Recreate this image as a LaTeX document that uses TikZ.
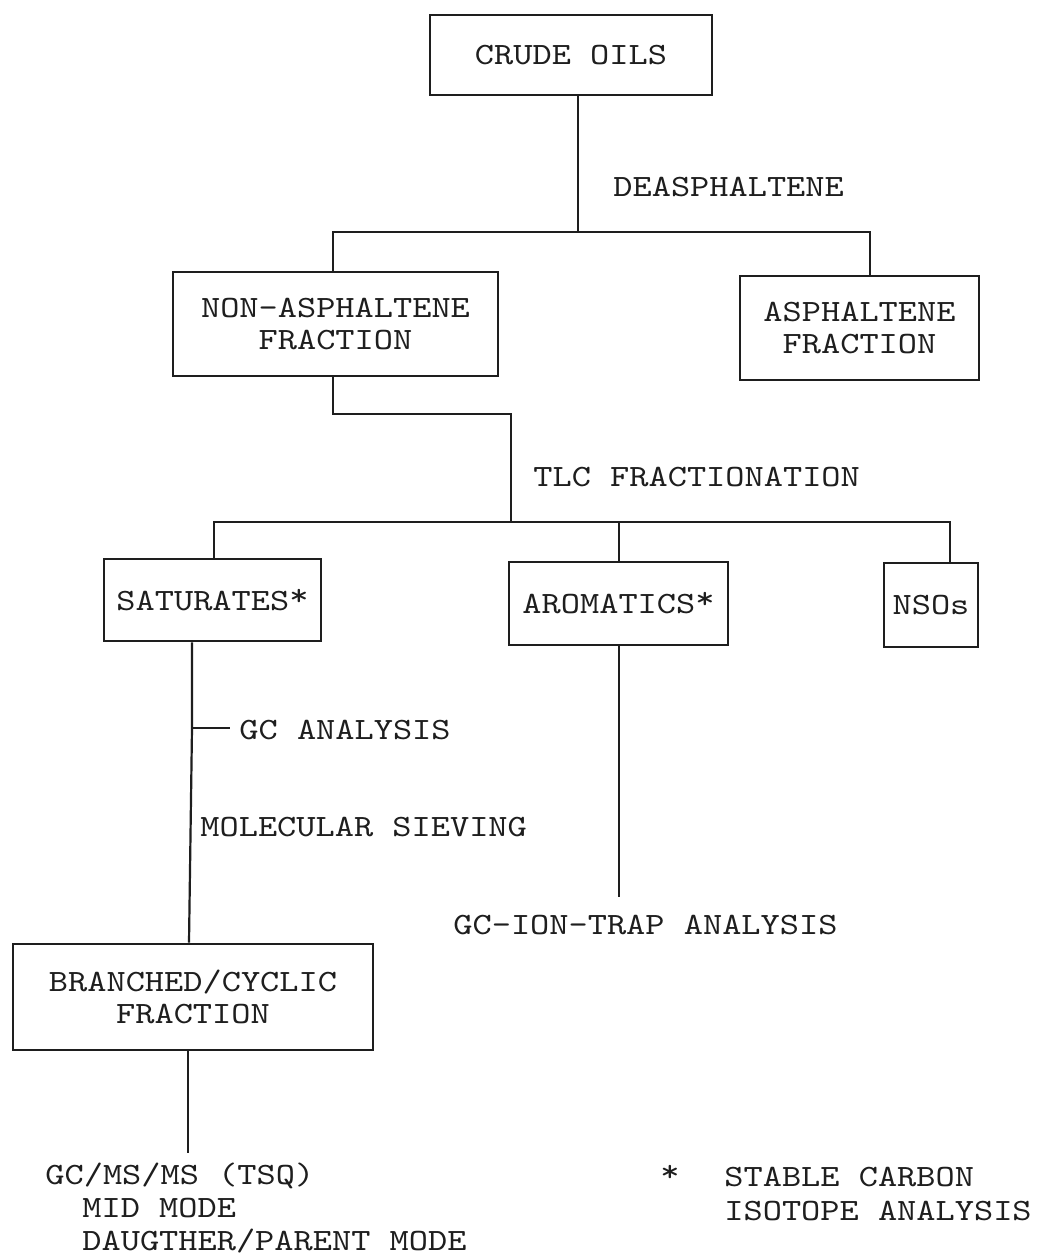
\documentclass[tikz,border=0pt]{standalone}
\usepackage{fontspec}
\newfontfamily\mono[FakeStretch=1.18]{lmmono10-regular.otf}
\definecolor{ink}{HTML}{1E1E1E}
\newcommand{\hiast}{\raisebox{2.5pt}{*}}
\begin{document}
\begin{tikzpicture}[x=0.5pt,y=-0.5pt,
  txt/.style={font=\mono\fontsize{15.5}{16}\selectfont,text=ink},
  box/.style={txt,draw=ink,line width=1.3pt,inner sep=0pt,align=center},
  lbl/.style={txt,anchor=base west,inner sep=0pt},
  conn/.style={draw=ink,line width=1.1pt}]
\useasboundingbox[fill=white] (0,0) rectangle (1037,1255);

% boxes
\node[box,minimum width=141pt,minimum height=40pt] (crude) at (571,55) {CRUDE OILS};
\node[box,minimum width=162.5pt,minimum height=52pt] (nonasph) at (335.5,324) {NON-ASPHALTENE\\FRACTION};
\node[box,minimum width=119.5pt,minimum height=52pt] (asph) at (859.5,328) {ASPHALTENE\\FRACTION};
\node[box,minimum width=108.5pt,minimum height=41pt] (sat) at (212.5,600) {SATURATES\hiast};
\node[box,minimum width=109.5pt,minimum height=41.5pt] (arom) at (618.5,603.5) {AROMATICS\hiast};
\node[box,minimum width=47pt,minimum height=42pt] (nso) at (931,605) {NSOs};
\node[box,minimum width=180pt,minimum height=53pt] (branched) at (193,997) {BRANCHED/CYCLIC\\FRACTION};

% labels
\node[lbl] (deas) at (613,196) {DEASPHALTENE};
\node[lbl] (tlc) at (533,486) {TLC FRACTIONATION};
\node[lbl] (gcan) at (239,739) {GC ANALYSIS};
\node[lbl] (molsv) at (200,836) {MOLECULAR SIEVING};
\node[lbl] (iontrap) at (453,934) {GC-ION-TRAP ANALYSIS};
\node[lbl] (gcms1) at (45,1184) {GC/MS/MS (TSQ)};
\node[lbl] (gcms2) at (82,1217) {MID MODE};
\node[lbl] (gcms3) at (82,1250) {DAUGTHER/PARENT MODE};
\node[lbl] (star) at (660,1186) {\hiast};
\node[lbl] (stable) at (724,1186) {STABLE CARBON};
\node[lbl] (isotope) at (724,1220) {ISOTOPE ANALYSIS};

% junction coordinates
\coordinate (j1) at (578,232);
\coordinate (dl) at (333,232);
\coordinate (dr) at (870,232);
\coordinate (k1) at (333,414);
\coordinate (k2) at (511,414);
\coordinate (k3) at (511,522);
\coordinate (hl) at (214,522);
\coordinate (ha) at (619,522);
\coordinate (hr) at (950,522);
\coordinate (s1) at (192,728);
\coordinate (t1) at (230,728);
\coordinate (s2) at (189,944);
\coordinate (a1) at (619,897);
\coordinate (b1) at (188,1153);

% connectors
\draw[conn] (crude.south -| j1) -- (j1);
\draw[conn] (nonasph.north -| dl) -- (dl) -- (dr) -- (asph.north -| dr);
\draw[conn] (nonasph.south -| k1) -- (k1) -- (k2) -- (k3);
\draw[conn] (sat.north -| hl) -- (hl) -- (hr) -- (nso.north -| hr);
\draw[conn] (ha) -- (arom.north -| ha);
\draw[conn] (sat.south -| s1) -- (s1) -- (branched.north -| s2);
\draw[conn] (s1) -- (t1);
\draw[conn] (arom.south -| a1) -- (a1);
\draw[conn] (branched.south -| b1) -- (b1);
\end{tikzpicture}
\end{document}
